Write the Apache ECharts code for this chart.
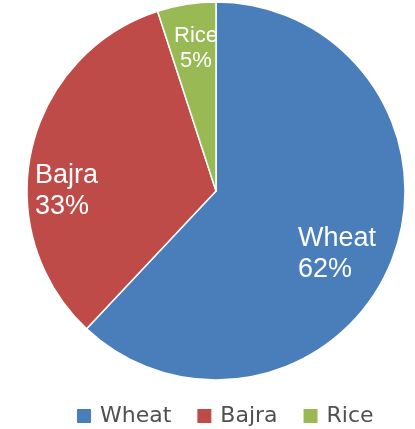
<!DOCTYPE html>
<html>
<head>
<meta charset="utf-8">
<script src="https://cdn.jsdelivr.net/npm/echarts@6/dist/echarts.min.js"></script>
<style>
  *{ margin:0; padding:0; }
  body{ background:#fff; }
  #chart{ width:415px; height:429px; }
</style>
</head>
<body>
<div id="chart"></div>
<script>
  // crop shares (%)
  var crops = ['Wheat', 'Bajra', 'Rice'];
  var shares = [62, 33, 5];
  var colors = ['#4a7ebb', '#be4b48', '#98b954'];

  // label anchor offsets from the pie centre, Excel style placement
  var labelOffset = [[82, 63, 'left'], [-181, 0, 'left'], [-20, -143, 'center']];
  var pieCenter = [216, 191];

  var chart = echarts.init(document.getElementById('chart'));

  chart.setOption({
    animation: false,
    color: colors,
    legend: {
      data: crops,
      top: 400,
      left: 70,
      icon: 'rect',
      itemWidth: 16,
      itemHeight: 16,
      itemGap: 24,
      textStyle: {
        color: '#505050',
        fontSize: 22,
        fontFamily: 'DejaVu Sans',
        padding: [0, 0, 0, 3]
      }
    },
    series: [{
      type: 'pie',
      center: pieCenter,
      radius: 189,
      startAngle: 90,
      clockwise: true,
      itemStyle: {
        borderColor: '#fff',
        borderWidth: 1.5
      },
      label: {
        show: true,
        position: 'inside',
        color: '#fff',
        fontSize: 27,
        lineHeight: 31,
        fontFamily: 'Liberation Sans',
        formatter: '{b}\n{c}%'
      },
      labelLine: { show: false },
      labelLayout: function (p) {
        var o = labelOffset[p.dataIndex];
        return {
          x: pieCenter[0] + o[0],
          y: pieCenter[1] + o[1],
          align: o[2],
          verticalAlign: 'middle'
        };
      },
      emphasis: { disabled: true },
      data: crops.map(function (name, i) {
        var item = { name: name, value: shares[i] };
        if (name === 'Rice') {
          item.label = { fontSize: 22, lineHeight: 25 };
        }
        return item;
      })
    }]
  });
</script>
</body>
</html>
